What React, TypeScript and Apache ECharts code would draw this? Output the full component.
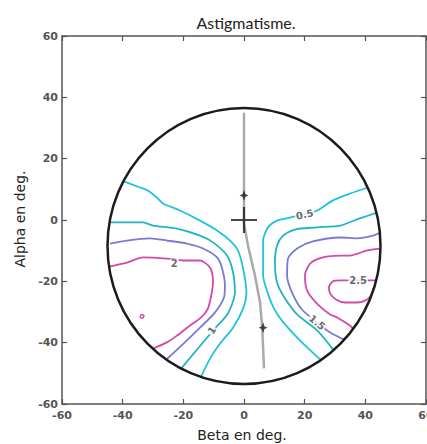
import React, { useEffect, useRef } from "react";
import * as echarts from "echarts";

// Axis ranges (degrees)
const BETA_RANGE = [-60, 60];
const ALPHA_RANGE = [-60, 60];
const TICK_STEP = 20;

// Pupil circle: [beta centre, alpha centre, radius]
const PUPIL_CIRCLE = [0, -8.5, 45];

// Gray meridian trace
const GRAY_TRACE = [[0, 35], [0, -1], [1.3, -8.3], [3.6, -18], [5.3, -27], [6, -35], [6.6, -48.4]];
const CROSS_POINT = [[0, 0]];
const STAR_POINTS = [[0, 8], [6.3, -35.1]];

// Contour levels (beta, alpha)
const LEVEL_05_LEFT = [[-39.7, 12.6], [-34.3, 10.6], [-31.7, 9.6], [-28.4, 7.0], [-26.7, 5.4], [-21.1, 3.1], [-14.5, -0.2], [-8.9, -3.4], [-4.6, -6.7], [-2.0, -9.9], [-0.3, -15.8], [0.8, -23.6], [-0.3, -28.9], [-3.6, -35.1], [-7.9, -40.3], [-11.2, -45.2], [-14.2, -51.2]];
const LEVEL_1_LEFT = [[-44.2, -0.8], [-33.3, -0.8], [-30.0, -1.8], [-22.1, -2.8], [-14.5, -5.1], [-10.2, -7.3], [-5.6, -11.6], [-3.6, -17.1], [-3.0, -23.6], [-5.3, -30.5], [-9.6, -35.4], [-15.2, -41.9], [-20.6, -48.3]];
const LEVEL_15_LEFT = [[-44.2, -7.7], [-38.6, -6.7], [-31.0, -6.0], [-25.4, -6.7], [-18.8, -7.7], [-13.5, -9.3], [-8.9, -12.2], [-7.3, -15.5], [-6.3, -21.4], [-6.6, -25.3], [-9.6, -30.2], [-14.5, -35.1], [-19.5, -39.9], [-25.6, -45.5]];
const LEVEL_2_LEFT = [[-44.5, -15.2], [-38.6, -13.9], [-33.3, -12.2], [-25.4, -12.6], [-20.1, -13.2], [-14.5, -13.2], [-11.2, -15.5], [-10.2, -19.7], [-10.6, -23.6], [-11.9, -28.9], [-14.5, -32.1], [-17.8, -34.4], [-22.1, -37.7], [-25.4, -39.9], [-30, -42]];
const LEVEL_2_DOT = [[-34.2, -31.2], [-33.6, -30.8], [-33.0, -31.3], [-33.4, -32.0], [-34.1, -31.9], [-34.2, -31.2]];

const LEVEL_05_RIGHT = [[40.9, 10.6], [34.9, 8.6], [29.3, 6.4], [24.1, 3.1], [19.5, 1.8], [15.2, 0.8], [10.9, -0.2], [7.9, -2.4], [6.3, -6.7], [6.3, -13.2], [6.3, -18.1], [7.9, -24.0], [9.9, -28.9], [12.5, -32.8], [18.5, -39.3], [25.4, -45.7]];
const LEVEL_1_RIGHT = [[43.9, 2.4], [38.2, 0.5], [31.7, -1.8], [24.1, -2.4], [16.8, -3.1], [12.9, -5.1], [10.9, -8.3], [10.2, -13.9], [10.9, -20.4], [12.9, -24.6], [17.5, -30.8], [24.1, -36.0], [29.6, -42.5]];
const LEVEL_15_RIGHT = [[44.8, -4.1], [42.5, -5.1], [37.3, -6.0], [31.7, -5.7], [22.7, -7.0], [17.5, -9.3], [14.5, -12.6], [14.2, -18.1], [15.8, -23.6], [19.1, -29.2], [24.1, -33.4], [28.4, -36.7], [33, -39]];
const LEVEL_2_RIGHT = [[44.8, -9.3], [40.6, -9.9], [34.9, -11.6], [31.7, -11.6], [26.0, -12.2], [21.8, -14.2], [20.1, -18.1], [20.8, -23.0], [24.4, -27.6], [28.4, -30.8], [30.7, -31.8], [34.9, -34.4], [36, -35.5]];
const LEVEL_25_RIGHT = [[43.6, -19.7], [37.6, -19.7], [31.7, -19.7], [29.3, -20.0], [28.0, -22.0], [28.4, -24.0], [30.3, -25.9], [33.3, -26.9], [37.3, -26.9], [40.6, -25.9], [42.1, -24.3]];

// Contour labels: [beta, alpha, text]
const CONTOUR_LABELS: [number, number, string][] = [
  [20, 1.8, "0.5"],
  [-23, -14.3, "2"],
  [-10.6, -36.0, "1"],
  [24.1, -33.4, "1.5"],
  [37.6, -19.7, "2.5"],
];
const LABEL_ROTATIONS = [12, 0, 55, -40, 0];

const TITLE = "Astigmatisme.";
const X_NAME = "Beta en deg.";
const Y_NAME = "Alpha en deg.";

const C05 = "#1ec4de";
const C1 = "#21b4c2";
const C15 = "#7a7ad4";
const C2 = "#d24aa8";
const AXIS_COLOR = "#555";

export default function App() {
  const ref = useRef<HTMLDivElement>(null);
  useEffect(() => {
    if (!ref.current) return;
    const chart = echarts.init(ref.current, undefined, { renderer: "svg" });
    const lineSeries = (data: number[][], color: string, width = 1.8) => ({
      type: "line",
      data,
      showSymbol: false,
      symbol: "none",
      smooth: 0.25,
      silent: true,
      lineStyle: { color, width },
      z: 3,
    });
    const axisCommon = {
      type: "value",
      interval: TICK_STEP,
      splitLine: { show: false },
      axisLine: { show: true, onZero: false, lineStyle: { color: AXIS_COLOR, width: 1.5 } },
      axisTick: { show: true, inside: true, length: 5, lineStyle: { color: AXIS_COLOR, width: 1.2 } },
    };
    const tickLabel = { color: "#555", fontSize: 11, fontWeight: "bold", fontFamily: "DejaVu Sans" };
    chart.setOption({
      animation: false,
      backgroundColor: "#fff",
      grid: { left: 62, right: 1, top: 36, bottom: 40, containLabel: false, outerBoundsMode: "none" },
      xAxis: [
        { ...axisCommon, min: BETA_RANGE[0], max: BETA_RANGE[1], position: "bottom", axisLabel: { ...tickLabel, margin: 6 } },
        { ...axisCommon, min: BETA_RANGE[0], max: BETA_RANGE[1], position: "top", axisLabel: { show: false } },
      ],
      yAxis: [
        { ...axisCommon, min: ALPHA_RANGE[0], max: ALPHA_RANGE[1], position: "left", axisLabel: { ...tickLabel, margin: 4 } },
        { ...axisCommon, min: ALPHA_RANGE[0], max: ALPHA_RANGE[1], position: "right", axisLabel: { show: false } },
      ],
      graphic: [
        { type: "text", x: 246, y: 22, style: { text: TITLE, align: "center", verticalAlign: "middle", font: "16px Lato", fill: "#222" } },
        { type: "text", x: 242, y: 435, style: { text: X_NAME, align: "center", verticalAlign: "middle", font: "14px 'DejaVu Sans'", fill: "#222" } },
        { type: "text", x: 20, y: 219, rotation: Math.PI / 2, style: { text: Y_NAME, align: "center", verticalAlign: "middle", font: "14px 'DejaVu Sans'", fill: "#222" } },
      ],
      series: [
        lineSeries(LEVEL_05_LEFT, C05),
        lineSeries(LEVEL_1_LEFT, C1),
        lineSeries(LEVEL_15_LEFT, C15),
        lineSeries(LEVEL_2_LEFT, C2),
        lineSeries(LEVEL_2_DOT, C2, 1.5),
        lineSeries(LEVEL_05_RIGHT, C05),
        lineSeries(LEVEL_1_RIGHT, C1),
        lineSeries(LEVEL_15_RIGHT, C15),
        lineSeries(LEVEL_2_RIGHT, C2),
        lineSeries(LEVEL_25_RIGHT, C2),
        {
          type: "line",
          data: GRAY_TRACE,
          showSymbol: false,
          symbol: "none",
          silent: true,
          lineStyle: { color: "#aaaaaa", width: 2.5 },
          z: 4,
        },
        {
          type: "custom",
          data: [PUPIL_CIRCLE],
          silent: true,
          z: 5,
          renderItem: (params: any, api: any) => {
            const c = api.coord([api.value(0), api.value(1)]);
            const s = api.size([api.value(2), api.value(2)]);
            return {
              type: "ellipse",
              shape: { cx: c[0], cy: c[1], rx: s[0], ry: s[1] },
              style: { fill: "none", stroke: "#1c1c1c", lineWidth: 2.5 },
            };
          },
        },
        {
          type: "scatter",
          data: CROSS_POINT,
          symbol: "path://M-1,-12H1V-1H12V1H1V12H-1V1H-12V-1H-1Z",
          symbolSize: 26,
          itemStyle: { color: "#1a1a1a" },
          silent: true,
          z: 6,
        },
        {
          type: "scatter",
          data: STAR_POINTS,
          symbol: "path://M0,-6L1.5,-1.5L5,0L1.5,1.5L0,6L-1.5,1.5L-5,0L-1.5,-1.5Z",
          symbolSize: [9, 11],
          itemStyle: { color: "#1a1a1a" },
          silent: true,
          z: 6,
        },
        {
          type: "scatter",
          symbolSize: 1,
          itemStyle: { color: "rgba(0,0,0,0)" },
          silent: true,
          z: 7,
          data: CONTOUR_LABELS.map((d, i) => ({
            name: d[2],
            value: [d[0], d[1]],
            label: { rotate: LABEL_ROTATIONS[i] },
          })),
          label: {
            show: true,
            position: "inside",
            formatter: (p: any) => p.name,
            color: "#444",
            fontSize: 10,
            fontWeight: "bold",
            fontFamily: "DejaVu Sans",
            backgroundColor: "#fff",
            padding: [0, 1],
          },
        },
      ],
    });
    return () => chart.dispose();
  }, []);
  return <div ref={ref} style={{ position: "fixed", left: 0, top: 0, width: 427, height: 444 }} />;
}
